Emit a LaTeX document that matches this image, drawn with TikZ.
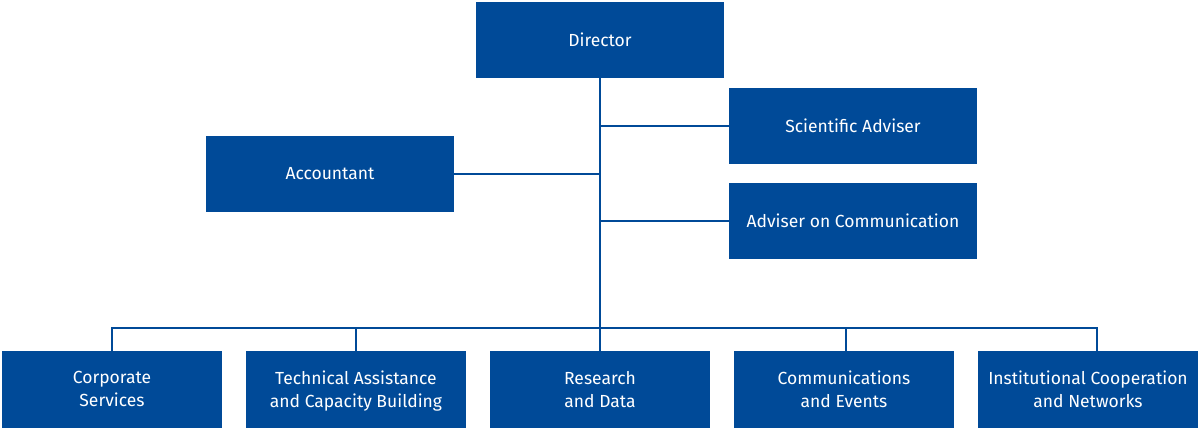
\documentclass[tikz,border=0pt]{standalone}
\usepackage{fontspec}
\setmainfont{Fira Sans}
\definecolor{orgblue}{RGB}{0,74,152}
\tikzset{
        unit/.style={fill=orgblue, text=white, minimum width=248pt, minimum height=76pt, inner sep=0pt, align=center, font=\fontsize{17.5}{23}\selectfont},
        dept/.style={unit, minimum width=220pt, minimum height=77pt, text depth=1pt},
        link/.style={draw=orgblue, line width=2pt}
    }

\begin{document}
\begin{tikzpicture}[x=1pt, y=-1pt]
            \useasboundingbox (0,0) rectangle (1198,430);

            \node [unit] (dir)  at (600, 40)   {Director};
            \node [unit] (sci)  at (853, 126)  {Scientific Adviser};
            \node [unit] (acc)  at (330, 174)  {Accountant};
            \node [unit] (com)  at (853, 221)  {Adviser on Communication};

            \node [dept] (corp) at (112, 389.5)  {Corporate\\Services};
            \node [dept] (tech) at (356, 389.5)  {Technical Assistance\\and Capacity Building};
            \node [dept] (res)  at (600, 389.5)  {Research\\and Data};
            \node [dept] (evt)  at (844, 389.5)  {Communications\\and Events};
            \node [dept] (inst) at (1088, 389.5) {Institutional Cooperation\\and Networks};

            \coordinate (bus) at (600, 328);

            \draw [link] (dir) -- (res);
            \draw [link] (sci.west) -- (sci.west -| dir.south);
            \draw [link] (acc.east) -- (acc.east -| dir.south);
            \draw [link] (com.west) -- (com.west -| dir.south);
            \draw [link] (bus) -| (corp);
            \draw [link] (bus) -| (tech);
            \draw [link] (bus) -| ([xshift=2pt]evt.north);
            \draw [link] (bus) -| ([xshift=9pt]inst.north);
        \end{tikzpicture}
\end{document}
